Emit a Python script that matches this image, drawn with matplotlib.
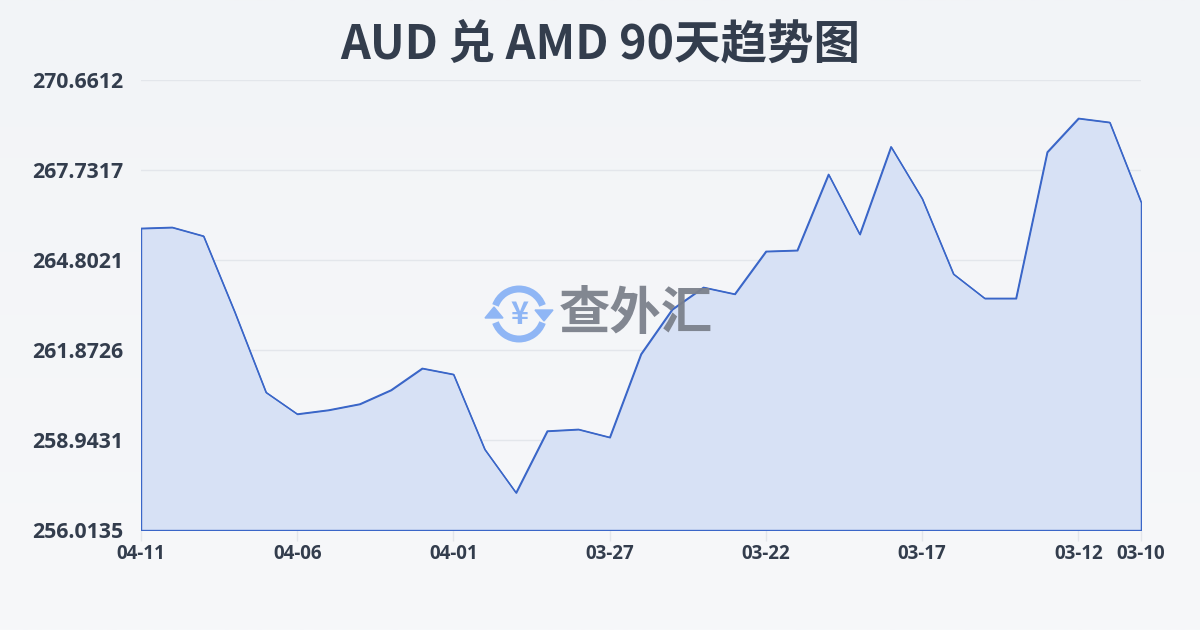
import matplotlib
matplotlib.use("Agg")
import numpy as np
from matplotlib import pyplot as plt
from matplotlib.patches import Arc, Polygon

plt.rcParams['font.family'] = ['Noto Sans CJK SC', 'DejaVu Sans']

# daily rates, newest (04-11) first, oldest (03-10) last
dates = ["04-11", "04-10", "04-09", "04-08", "04-07", "04-06", "04-05", "04-04",
         "04-03", "04-02", "04-01", "03-31", "03-30", "03-29", "03-28", "03-27",
         "03-26", "03-25", "03-24", "03-23", "03-22", "03-21", "03-20", "03-19",
         "03-18", "03-17", "03-16", "03-15", "03-14", "03-13", "03-12", "03-11",
         "03-10"]
rates = [265.834, 265.866, 265.583, 263.109, 260.495, 259.789, 259.919, 260.115,
         260.570, 261.277, 261.081, 258.640, 257.228, 259.236, 259.291, 259.031,
         261.742, 263.197, 263.913, 263.695, 265.085, 265.118, 267.592, 265.639,
         268.490, 266.797, 264.346, 263.555, 263.555, 268.317, 269.414, 269.284,
         266.700]
y_ticks = [256.0135, 258.9431, 261.8726, 264.8021, 267.7317, 270.6612]
x_tick_labels = ["04-11", "04-06", "04-01", "03-27", "03-22", "03-17", "03-12", "03-10"]

text_color = "#333d4d"
line_color = "#3a66c8"
fill_color = "#d7e1f5"

fig = plt.figure(figsize=(12, 6.3), dpi=100)
# soft background gradient
bg = fig.add_axes([0, 0, 1, 1], zorder=-10)
grad = np.linspace(0, 1, 256).reshape(-1, 1)
bg.imshow(grad, aspect="auto", extent=[0, 1, 0, 1],
          cmap=matplotlib.colors.LinearSegmentedColormap.from_list("bg", ["#f2f4f7", "#f7f8fa"]))
bg.axis("off")

ax = fig.add_axes([0.1175, 0.1587, 0.8333, 0.7143])
ax.patch.set_alpha(0)
x = np.arange(len(rates))
ax.fill_between(x, rates, y_ticks[0], facecolor=fill_color, edgecolor=line_color,
                linewidth=1.0, zorder=2)
ax.plot(x, rates, color=line_color, linewidth=1.0, zorder=3)

ax.set_xlim(0, len(rates) - 1)
ax.set_ylim(y_ticks[0], y_ticks[-1])
ax.set_yticks(y_ticks)
ax.set_yticklabels([f"{v:.4f}" for v in y_ticks])
ax.set_xticks([dates.index(d) for d in x_tick_labels])
ax.set_xticklabels(x_tick_labels)
ax.grid(axis="y", color="#e3e6eb", linewidth=1.0, zorder=1)
for s in ax.spines.values():
    s.set_visible(False)
ax.tick_params(axis="y", length=0, pad=13, labelcolor=text_color)
ax.tick_params(axis="x", length=8, width=1, color="#e3e6eb", pad=2, labelcolor=text_color)
for lab in ax.get_yticklabels():
    lab.set_fontfamily(["Open Sans", "DejaVu Sans"])
    lab.set_fontweight("bold")
    lab.set_fontsize(15.3)
for lab in ax.get_xticklabels():
    lab.set_fontfamily(["Open Sans", "DejaVu Sans"])
    lab.set_fontweight("bold")
    lab.set_fontsize(13.5)

fig.text(0.5, 0.929, "AUD 兑 AMD 90天趋势图", ha="center", va="center",
         fontsize=33.5, fontweight="bold", color=text_color)

# watermark
wm = fig.add_axes([0, 0, 1, 1], zorder=5)
wm.set_xlim(0, 1200)
wm.set_ylim(630, 0)
wm.axis("off")
cx, cy, r = 519, 314, 25
icon = "#8fb6f5"
wm.add_patch(Arc((cx, cy), 2 * r, 2 * r, theta1=200, theta2=340, color=icon, lw=5))
wm.add_patch(Arc((cx, cy), 2 * r, 2 * r, theta1=20, theta2=160, color=icon, lw=5))
wm.add_patch(Polygon([[cx + r - 9, cy - 4], [cx + r + 9, cy - 4], [cx + r, cy + 7]],
                     color=icon))
wm.add_patch(Polygon([[cx - r - 9, cy + 4], [cx - r + 9, cy + 4], [cx - r, cy - 7]],
                     color=icon))
wm.text(cx, cy + 1, "¥", ha="center", va="center", fontsize=22, fontweight="bold",
        color=icon)
wm.text(636, 314, "查外汇", ha="center", va="center", fontsize=37, fontweight="bold",
        color="#7c818c", alpha=0.95)

fig.savefig("out.png", dpi=100)
